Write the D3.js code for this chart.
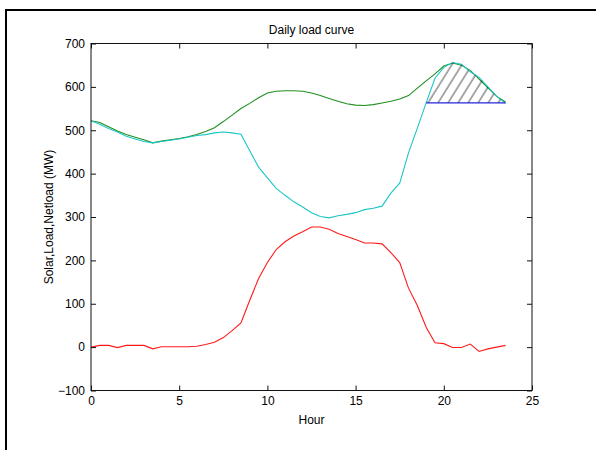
<!DOCTYPE html>
<html>
<head>
<meta charset="utf-8">
<script src="https://cdn.jsdelivr.net/npm/d3@7"></script>
<style>
  body { margin: 0; background: #fff; }
  svg { display: block; font-family: "Liberation Sans", Arial, sans-serif; }
</style>
</head>
<body>
<svg id="chart" width="596" height="450"></svg>
<script>
// half-hourly readings
const hours = [0, 0.5, 1, 1.5, 2, 2.5, 3, 3.5, 4, 4.5, 5, 5.5, 6, 6.5, 7, 7.5, 8, 8.5, 9, 9.5,
  10, 10.5, 11, 11.5, 12, 12.5, 13, 13.5, 14, 14.5, 15, 15.5, 16, 16.5, 17, 17.5, 18, 18.5, 19, 19.5,
  20, 20.5, 21, 21.5, 22, 22.5, 23, 23.5]

const solar = [0, 4, 4, -1, 4, 4, 4, -4, 1, 1, 1, 1, 2, 6, 11, 22, 38, 56, 108, 158,
  195, 225, 243, 256, 266, 277, 277, 272, 262, 255, 248, 240, 240, 238, 218, 195, 136, 96, 46, 10,
  8, -1, -1, 7, -10, -4, 0, 4]

const load = [522, 518, 508, 498, 490, 484, 478, 471, 475, 478, 481, 485, 490, 497, 506, 520, 535, 550, 562, 575,
  586, 590, 591, 591, 590, 586, 580, 573, 567, 561, 558, 557, 559, 563, 567, 572, 580, 597, 614, 630,
  648, 655, 650, 638, 618, 598, 578, 565]

const netload = [522, 514, 504, 496, 486, 480, 474, 471, 474, 477, 480, 484, 488, 490, 494, 496, 494, 491, 453, 415,
  390, 366, 350, 335, 323, 310, 301, 298, 303, 306, 310, 317, 320, 325, 355, 378, 448, 505, 563, 620,
  645, 656, 652, 635, 622, 600, 578, 562]

const peakLevel = 563   // blue line level of the evening ramp
const peakFrom = 19

const xTicks = [0, 5, 10, 15, 20, 25]
const yTicks = [-100, 0, 100, 200, 300, 400, 500, 600, 700]

const svg = d3.select('#chart')

// figure frame
svg.append('rect')
  .attr('x', 6).attr('y', 10)
  .attr('width', 620).attr('height', 460)
  .attr('fill', 'none')
  .attr('stroke', '#000')
  .attr('stroke-width', 2)

const x = d3.scaleLinear().domain([0, 25]).range([91, 532])
const y = d3.scaleLinear().domain([-100, 700]).range([390.5, 43.5])

// hatch pattern
svg.append('defs').append('pattern')
  .attr('id', 'hatch')
  .attr('patternUnits', 'userSpaceOnUse')
  .attr('width', 8.5).attr('height', 20)
  .attr('patternTransform', 'rotate(32)')
  .append('line')
  .attr('x1', 1).attr('y1', 0).attr('x2', 1).attr('y2', 20)
  .attr('stroke', '#222')
  .attr('stroke-width', 0.8)

const plot = svg.append('g')

const line = series => d3.line()
  .x((d, i) => x(hours[i]))
  .y(d => y(d))(series)

plot.append('path').attr('d', line(solar))
  .attr('fill', 'none').attr('stroke', '#ff1a1a').attr('stroke-width', 1.1)

plot.append('path').attr('d', line(load))
  .attr('fill', 'none').attr('stroke', '#1f8f1f').attr('stroke-width', 1.1)

plot.append('path').attr('d', line(netload))
  .attr('fill', 'none').attr('stroke', '#1cc6c6').attr('stroke-width', 1.1)

// hatched evening peak
const peakIdx = hours.map((h, i) => i).filter(i => hours[i] >= peakFrom)
const area = d3.area()
  .x(i => x(hours[i]))
  .y0(y(peakLevel))
  .y1(i => y(Math.max(netload[i], peakLevel)))

plot.append('path').attr('d', area(peakIdx))
  .attr('fill', 'url(#hatch)')

plot.append('line')
  .attr('x1', x(peakFrom)).attr('x2', x(hours[hours.length - 1]))
  .attr('y1', y(peakLevel)).attr('y2', y(peakLevel))
  .attr('stroke', '#2424dd').attr('stroke-width', 1.2)

// axes box
svg.append('rect')
  .attr('x', x(0)).attr('y', y(700))
  .attr('width', x(25) - x(0)).attr('height', y(-100) - y(700))
  .attr('fill', 'none').attr('stroke', '#111').attr('stroke-width', 1)

const styleAxis = g => {
  g.select('.domain').remove()
  g.selectAll('.tick line').attr('stroke', '#111')
  g.selectAll('.tick text').attr('fill', '#000').style('font-size', '12px')
    .style('font-family', '"Liberation Sans", Arial, sans-serif')
}

svg.append('g').attr('transform', `translate(0,${y(-100)})`)
  .call(d3.axisBottom(x).tickValues(xTicks).tickSizeInner(-5).tickSizeOuter(0).tickPadding(6))
  .call(styleAxis)

svg.append('g').attr('transform', `translate(0,${y(700)})`)
  .call(d3.axisTop(x).tickValues(xTicks).tickSizeInner(-5).tickSizeOuter(0).tickFormat(''))
  .call(styleAxis)

svg.append('g').attr('transform', `translate(${x(0)},0)`)
  .call(d3.axisLeft(y).tickValues(yTicks).tickSizeInner(-5).tickSizeOuter(0).tickPadding(6))
  .call(styleAxis)

svg.append('g').attr('transform', `translate(${x(25)},0)`)
  .call(d3.axisRight(y).tickValues(yTicks).tickSizeInner(-5).tickSizeOuter(0).tickFormat(''))
  .call(styleAxis)

// labels
svg.append('text')
  .attr('x', (x(0) + x(25)) / 2).attr('y', 34)
  .attr('text-anchor', 'middle')
  .style('font-size', '12px')
  .text('Daily load curve')

svg.append('text')
  .attr('x', (x(0) + x(25)) / 2).attr('y', 424)
  .attr('text-anchor', 'middle')
  .style('font-size', '12px')
  .text('Hour')

svg.append('text')
  .attr('transform', `translate(53,${(y(700) + y(-100)) / 2}) rotate(-90)`)
  .attr('text-anchor', 'middle')
  .style('font-size', '12px')
  .text('Solar,Load,Netload (MW)')
</script>
</body>
</html>
